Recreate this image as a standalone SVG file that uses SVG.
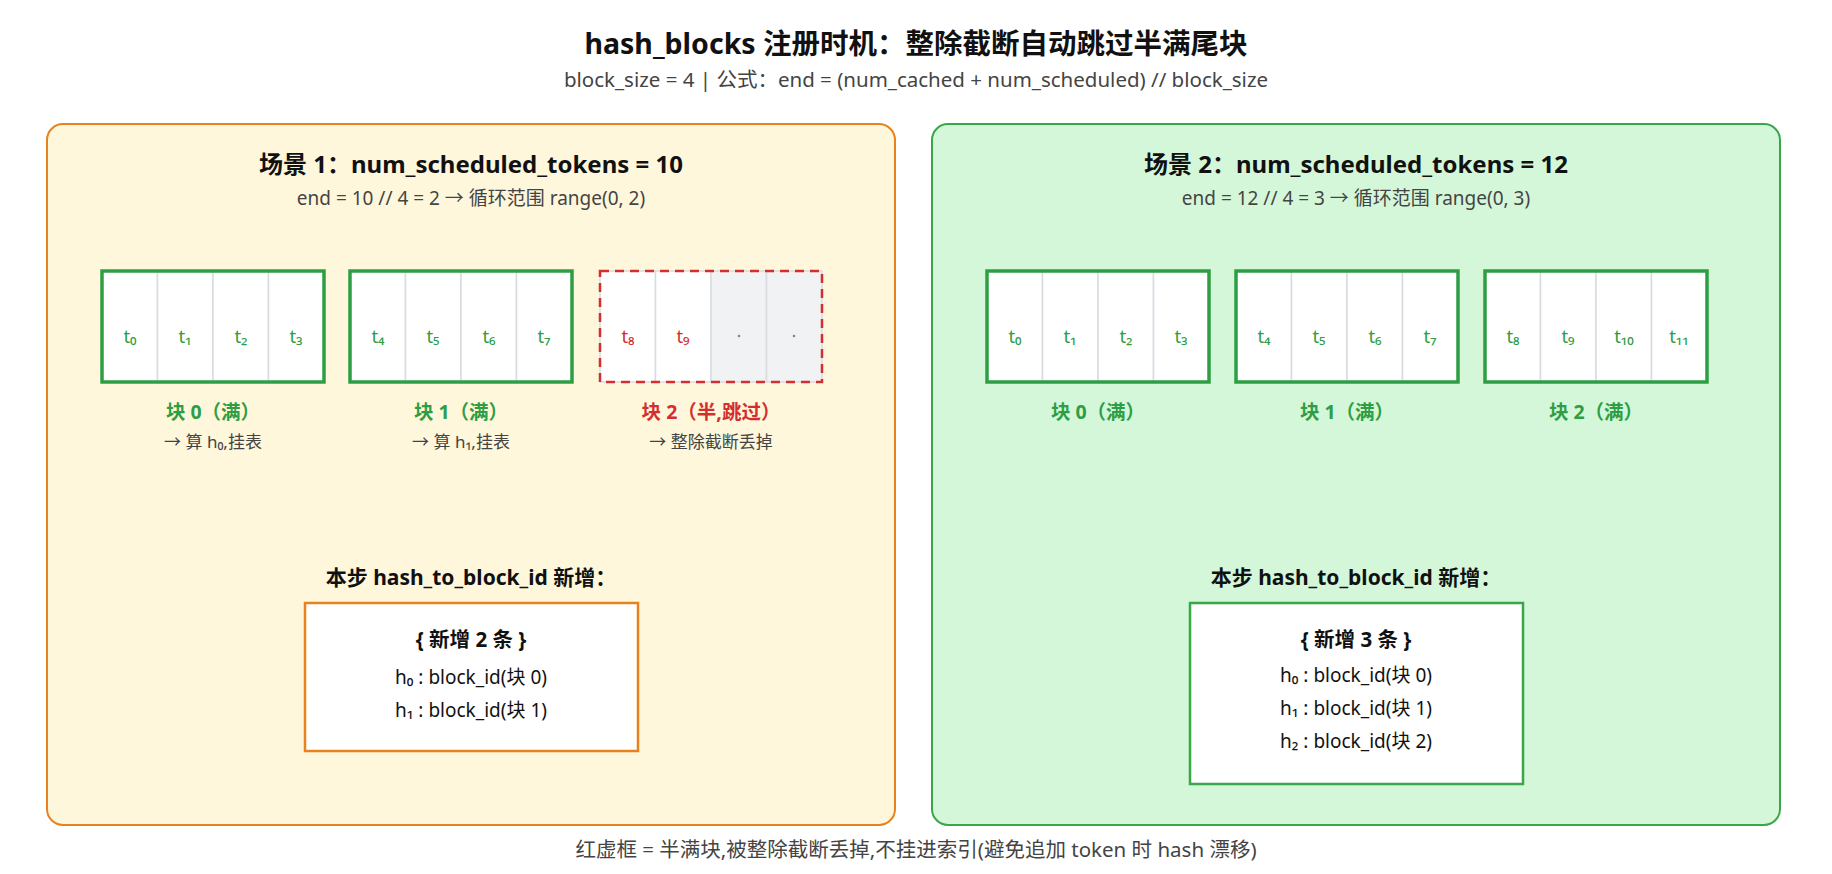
<svg xmlns="http://www.w3.org/2000/svg" width="1832" height="874" viewBox="0 0 1832 874">
<style>
text{font-family:"Noto Sans","Noto Sans CJK SC",sans-serif;text-anchor:middle}
.t{font-size:28.5px;font-weight:bold;fill:#111}
.s{font-size:20.5px;fill:#444}
.pt{font-size:24px;font-weight:bold;fill:#111}
.ps{font-size:19px;fill:#444}
.cell{fill:#fff;stroke:#d8dbe0;stroke-width:1.5}
.gray{fill:#f1f2f4;stroke:#d8dbe0;stroke-width:1.5}
.gb{fill:none;stroke:#2e9e44;stroke-width:3.5}
.rb{fill:none;stroke:#d32f2f;stroke-width:2.5;stroke-dasharray:9 6}
.ct{font-size:18.5px;fill:#2e9e44}
.rt{font-size:18.5px;fill:#d32f2f}
.lg{font-size:19.5px;font-weight:bold;fill:#2e9e44}
.lr{font-size:19.5px;font-weight:bold;fill:#d32f2f}
.sub{font-size:17px;fill:#444}
.bt{font-size:20.5px;font-weight:bold;fill:#111}
.bl{font-size:19px;fill:#111}
</style>
<rect width="1832" height="874" fill="#fff"/>
<text class="t" x="916" y="54">hash_blocks 注册时机：整除截断自动跳过半满尾块</text>
<text class="s" x="916" y="87">block_size = 4 | 公式：end = (num_cached + num_scheduled) // block_size</text>

<g id="scene1">
<rect x="47" y="124" width="848" height="701" rx="16" fill="#fef7dc" stroke="#e8821e" stroke-width="2"/>
<text class="pt" x="471" y="173">场景 1：num_scheduled_tokens = 10</text>
<text class="ps" x="471" y="205">end = 10 // 4 = 2 → 循环范围 range(0, 2)</text>
</g>
<g id="scene2">
<rect x="932" y="124" width="848" height="701" rx="16" fill="#d4f7d9" stroke="#3aa64a" stroke-width="2"/>
<text class="pt" x="1356" y="173">场景 2：num_scheduled_tokens = 12</text>
<text class="ps" x="1356" y="205">end = 12 // 4 = 3 → 循环范围 range(0, 3)</text>
</g>

<g id="s1b0">
<rect class="cell" x="102" y="271" width="55.5" height="111"/><rect class="cell" x="157.5" y="271" width="55.5" height="111"/><rect class="cell" x="213" y="271" width="55.5" height="111"/><rect class="cell" x="268.5" y="271" width="55.5" height="111"/>
<rect class="gb" x="102" y="271" width="222" height="111"/>
<text class="ct" x="130" y="343">t₀</text><text class="ct" x="185" y="343">t₁</text><text class="ct" x="241" y="343">t₂</text><text class="ct" x="296" y="343">t₃</text>
<text class="lg" x="213" y="419">块 0（满）</text><text class="sub" x="213" y="448">→ 算 h₀,挂表</text>
</g>
<g id="s1b1">
<rect class="cell" x="350" y="271" width="55.5" height="111"/><rect class="cell" x="405.5" y="271" width="55.5" height="111"/><rect class="cell" x="461" y="271" width="55.5" height="111"/><rect class="cell" x="516.5" y="271" width="55.5" height="111"/>
<rect class="gb" x="350" y="271" width="222" height="111"/>
<text class="ct" x="378" y="343">t₄</text><text class="ct" x="433" y="343">t₅</text><text class="ct" x="489" y="343">t₆</text><text class="ct" x="544" y="343">t₇</text>
<text class="lg" x="461" y="419">块 1（满）</text><text class="sub" x="461" y="448">→ 算 h₁,挂表</text>
</g>
<g id="s1b2">
<rect class="cell" x="600" y="271" width="55.5" height="111"/><rect class="cell" x="655.5" y="271" width="55.5" height="111"/><rect class="gray" x="711" y="271" width="55.5" height="111"/><rect class="gray" x="766.5" y="271" width="55.5" height="111"/>
<rect class="rb" x="600" y="271" width="222" height="111"/>
<text class="rt" x="628" y="343">t₈</text><text class="rt" x="683" y="343">t₉</text>
<circle cx="739" cy="336" r="1.3" fill="#888"/><circle cx="794" cy="336" r="1.3" fill="#888"/>
<text class="lr" x="711" y="419">块 2（半,跳过）</text><text class="sub" x="711" y="448">→ 整除截断丢掉</text>
</g>

<g id="s2b0">
<rect class="cell" x="987" y="271" width="55.5" height="111"/><rect class="cell" x="1042.5" y="271" width="55.5" height="111"/><rect class="cell" x="1098" y="271" width="55.5" height="111"/><rect class="cell" x="1153.5" y="271" width="55.5" height="111"/>
<rect class="gb" x="987" y="271" width="222" height="111"/>
<text class="ct" x="1015" y="343">t₀</text><text class="ct" x="1070" y="343">t₁</text><text class="ct" x="1126" y="343">t₂</text><text class="ct" x="1181" y="343">t₃</text>
<text class="lg" x="1098" y="419">块 0（满）</text>
</g>
<g id="s2b1">
<rect class="cell" x="1236" y="271" width="55.5" height="111"/><rect class="cell" x="1291.5" y="271" width="55.5" height="111"/><rect class="cell" x="1347" y="271" width="55.5" height="111"/><rect class="cell" x="1402.5" y="271" width="55.5" height="111"/>
<rect class="gb" x="1236" y="271" width="222" height="111"/>
<text class="ct" x="1264" y="343">t₄</text><text class="ct" x="1319" y="343">t₅</text><text class="ct" x="1375" y="343">t₆</text><text class="ct" x="1430" y="343">t₇</text>
<text class="lg" x="1347" y="419">块 1（满）</text>
</g>
<g id="s2b2">
<rect class="cell" x="1485" y="271" width="55.5" height="111"/><rect class="cell" x="1540.5" y="271" width="55.5" height="111"/><rect class="cell" x="1596" y="271" width="55.5" height="111"/><rect class="cell" x="1651.5" y="271" width="55.5" height="111"/>
<rect class="gb" x="1485" y="271" width="222" height="111"/>
<text class="ct" x="1513" y="343">t₈</text><text class="ct" x="1568" y="343">t₉</text><text class="ct" x="1624" y="343">t₁₀</text><text class="ct" x="1679" y="343">t₁₁</text>
<text class="lg" x="1596" y="419">块 2（满）</text>
</g>

<g id="s1table">
<text class="pt" x="471" y="585" style="font-size:21px">本步 hash_to_block_id 新增：</text>
<rect x="305" y="603" width="333" height="148" fill="#fff" stroke="#e8821e" stroke-width="2.5"/>
<text class="bt" x="471" y="647">{ 新增 2 条 }</text>
<text class="bl" x="471" y="684">h₀ : block_id(块 0)</text>
<text class="bl" x="471" y="717">h₁ : block_id(块 1)</text>
</g>
<g id="s2table">
<text class="pt" x="1356" y="585" style="font-size:21px">本步 hash_to_block_id 新增：</text>
<rect x="1190" y="603" width="333" height="181" fill="#fff" stroke="#3aa64a" stroke-width="2.5"/>
<text class="bt" x="1356" y="647">{ 新增 3 条 }</text>
<text class="bl" x="1356" y="682">h₀ : block_id(块 0)</text>
<text class="bl" x="1356" y="715">h₁ : block_id(块 1)</text>
<text class="bl" x="1356" y="748">h₂ : block_id(块 2)</text>
</g>
<g id="connectors"/>
<text class="s" x="916" y="857">红虚框 = 半满块,被整除截断丢掉,不挂进索引(避免追加 token 时 hash 漂移)</text>
</svg>
